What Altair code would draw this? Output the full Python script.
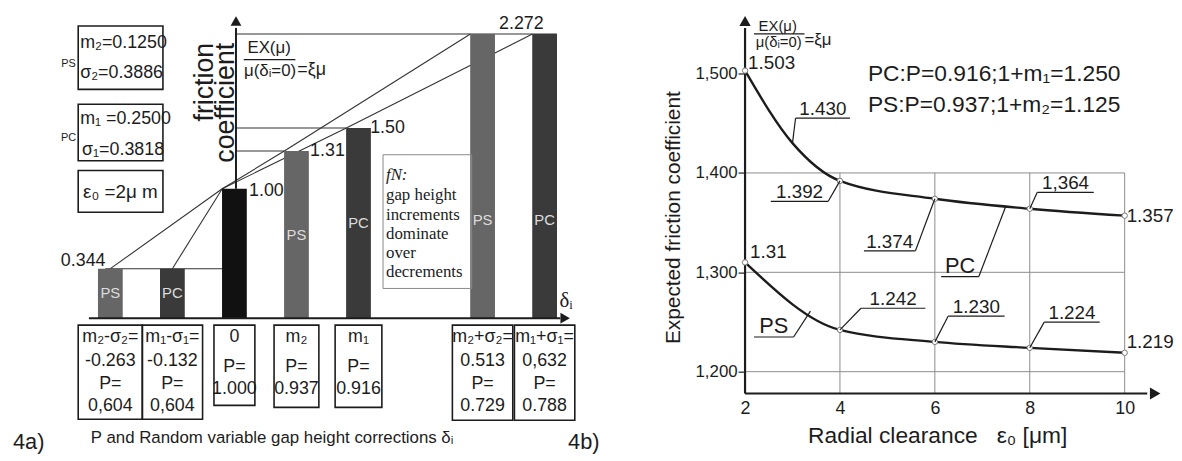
import altair as alt
import pandas as pd

SANS = "Liberation Sans"
SERIF = "Liberation Serif"
INK = "#1c1c1c"

# ---------------- data: figure 4a ----------------
slots = ["m2-s2", "m1-s1", "0", "m2", "m1", "", "m2+s2", "m1+s1"]
bar_slot = ["m2-s2", "m1-s1", "0", "m2", "m1", "m2+s2", "m1+s1"]
bar_kind = ["PS", "PC", "base", "PS", "PC", "PS", "PC"]
bar_value = [0.344, 0.344, 1.00, 1.31, 1.50, 2.272, 2.272]
box_head = ["m₂-σ₂=", "m₁-σ₁=", "0", "m₂", "m₁", "m₂+σ₂=", "m₁+σ₁="]
box_delta = ["-0.263", "-0.132", "", "", "", "0.513", "0,632"]
box_p = ["0,604", "0,604", "1.000", "0.937", "0.916", "0.729", "0.788"]
params_ps = ["m₂=0.1250", "σ₂=0.3886"]
params_pc = ["m₁ =0.2500", "σ₁=0.3818"]
eps_text = "ε₀ =2μ m"
note_lines = ["gap height", "increments", "dominate", "over", "decrements"]

# ---------------- data: figure 4b ----------------
clearance = [2, 4, 6, 8, 10]
pc_x = [2, 3, 4, 6, 8, 10]
pc_y = [1.503, 1.430, 1.392, 1.374, 1.364, 1.357]
pc_lab = ["1.503", "1.430", "1.392", "1.374", "1,364", "1.357"]
ps_x = [2, 4, 6, 8, 10]
ps_y = [1.31, 1.242, 1.230, 1.224, 1.219]
ps_lab = ["1.31", "1.242", "1.230", "1.224", "1.219"]
y_ticks = [1.2, 1.3, 1.4, 1.5]
x_ticks = [2, 4, 6, 8, 10]
grid_y = [1.2, 1.3, 1.4]
grid_x = [4, 6, 8, 10]

# ---------------- geometry ----------------
W1, W2, H = 592, 574, 445
STEP, KL = 63.7, 122.9
KRX, KRY = 47.9, 1003.0


def Lx(px):
    return (px - 108.0) / STEP


def Ly(py):
    return (311.3 - py) / KL


def Rx(px):
    return 2 + (px - 746.0) / KRX


def Ry(py):
    return 1.2 + (373.0 - py) / KRY


XL = alt.Scale(domain=[Lx(8), Lx(8 + W1)], nice=False, zero=False)
YL = alt.Scale(domain=[Ly(8 + H), Ly(8)], nice=False, zero=False)
XR = alt.Scale(domain=[Rx(8 + W1), Rx(8 + W1 + W2)], nice=False, zero=False)
YR = alt.Scale(domain=[Ry(8 + H), Ry(8)], nice=False, zero=False)
AX0 = Ly(319)
HALF = 12.5 / STEP
si = {s: k for k, s in enumerate(slots)}

AXIS_RX = alt.Axis(
    values=x_ticks, orient="bottom", offset=-58, domain=False, ticks=False, tickSize=0, grid=False,
    labelFontSize=18, labelFont=SANS, labelColor=INK, labelPadding=6,
    title="Radial clearance\u00a0\u00a0\u00a0ε₀ [μm]", titleFont=SANS, titleFontSize=23,
    titleFontWeight="normal", titleColor=INK, titleX=340, titleY=42, titleBaseline="middle",
    titleAlign="center")
AXIS_RY = alt.Axis(
    values=y_ticks, orient="left", offset=-146, format=".3f",
    labelExpr="replace(datum.label, '.', ',')", domain=False, grid=False,
    tickSize=7, tickColor=INK, tickWidth=1.2, labelFontSize=17, labelFont=SANS,
    labelColor=INK, labelPadding=1, title="Expected friction coefficient", titleFont=SANS,
    titleFontSize=21, titleFontWeight="normal", titleColor=INK, titleX=-72, titleY=209,
    titleBaseline="middle", titleAlign="center", titleAngle=270)


def xy(xs, ys):
    if xs is XR:
        return dict(x=alt.X("x:Q", scale=xs, axis=AXIS_RX), y=alt.Y("y:Q", scale=ys, axis=AXIS_RY))
    return dict(x=alt.X("x:Q", scale=xs, axis=None), y=alt.Y("y:Q", scale=ys, axis=None))


def texts(rows, xs, ys, **kw):
    df = pd.DataFrame(rows, columns=["x", "y", "t"])
    base = dict(font=SANS, color=INK, baseline="middle", fontSize=16)
    base.update(kw)
    return alt.Chart(df).mark_text(**base).encode(text="t:N", **xy(xs, ys))


def segs(rows, xs, ys, **kw):
    df = pd.DataFrame(rows, columns=["x", "y", "x2", "y2"])
    base = dict(color=INK, strokeWidth=1)
    base.update(kw)
    return alt.Chart(df).mark_rule(**base).encode(x2="x2:Q", y2="y2:Q", **xy(xs, ys))


def rects(rows, xs, ys, **kw):
    df = pd.DataFrame(rows, columns=["x", "y", "x2", "y2"])
    base = dict(fillOpacity=0, stroke=INK, strokeWidth=1.6)
    base.update(kw)
    return alt.Chart(df).mark_rect(**base).encode(x2="x2:Q", y2="y2:Q", **xy(xs, ys))


def arrow(x, y, shape, xs, ys, size=120):
    df = pd.DataFrame({"x": [x], "y": [y]})
    return alt.Chart(df).mark_point(shape=shape, filled=True, size=size, color=INK, opacity=1).encode(**xy(xs, ys))


# ================= panel 4a =================
bx = [si[s] for s in bar_slot]
bars_df = pd.DataFrame({"x": bx, "y": bar_value, "kind": bar_kind, "y2": AX0})
bars = alt.Chart(bars_df).mark_bar(size=25).encode(
    y2="y2:Q",
    color=alt.Color("kind:N", scale=alt.Scale(domain=["PS", "PC", "base"],
                                              range=["#666666", "#3a3a3a", "#111111"]), legend=None),
    **xy(XL, YL))

inner = texts([(x, min(Ly(220), (v + AX0) / 2), k) for x, v, k in zip(bx, bar_value, bar_kind) if k != "base"],
              XL, YL, color="#dcdcdc", fontSize=15, align="center")

ps_i = [0, 2, 3, 5]
pc_i = [1, 2, 4, 6]


def path(idx):
    pts = [(bx[idx[0]], bar_value[idx[0]])] + [(bx[k] - HALF, bar_value[k]) for k in idx[1:]]
    return [(a[0], a[1], b[0], b[1]) for a, b in zip(pts[:-1], pts[1:])]


diag = segs(path(ps_i) + path(pc_i), XL, YL, strokeWidth=1.1, color="#333333")

yaxis_x = Lx(237)
hlines = segs([
    (yaxis_x, bar_value[6], bx[6] + HALF, bar_value[6]),
    (yaxis_x, bar_value[4], bx[4] - HALF, bar_value[4]),
    (yaxis_x, bar_value[3], bx[3] - HALF, bar_value[3]),
    (bx[0] - 0.08, bar_value[0], bx[2] - HALF, bar_value[0]),
], XL, YL, strokeWidth=1.1, color="#333333")

axes_l = segs([(yaxis_x, bar_value[2], yaxis_x, Ly(26)), (Lx(86), AX0, Lx(570), AX0)], XL, YL, strokeWidth=2)
arr_l = arrow(yaxis_x, Ly(19), "triangle-up", XL, YL) + arrow(Lx(575), AX0, "triangle-right", XL, YL)

val_r = texts([(bx[0] - 5 / STEP, bar_value[0] + 8 / KL, "0.344")], XL, YL, align="right", fontSize=18)
val_l = texts([(bx[2] + 15 / STEP, bar_value[2] - 2 / KL, "1.00"),
               (bx[3] + 14 / STEP, bar_value[3], "1.31"),
               (bx[4] + 12 / STEP, bar_value[4], "1.50")], XL, YL, align="left", fontSize=18)
val_c = texts([((bx[5] + bx[6]) / 2 + 8 / STEP, bar_value[5] + 10 / KL, "2.272")], XL, YL, align="center", fontSize=18)

hw_px = [33, 31, 21, 23, 24, 31, 31]
bot_px = [421, 421, 407, 409, 409, 422, 422]
box_rows, box_txt = [], []
for k, x in enumerate(bx):
    box_rows.append((x - hw_px[k] / STEP, Ly(326), x + hw_px[k] / STEP, Ly(bot_px[k])))
    if box_delta[k]:
        lines = [(box_head[k], 338), (box_delta[k], 362), ("P=", 385), (box_p[k], 408)]
    else:
        lines = [(box_head[k], 338), ("P=", 368), (box_p[k], 391)]
    for t, py in lines:
        box_txt.append((x, Ly(py), t))
boxes_l = rects(box_rows, XL, YL)
boxes_t = texts(box_txt, XL, YL, align="center", fontSize=18)

par_boxes = rects([(Lx(75), Ly(24), Lx(162), Ly(88)), (Lx(75), Ly(103), Lx(162), Ly(160)),
                   (Lx(75), Ly(170), Lx(162), Ly(212))], XL, YL)
par_txt = texts([(Lx(77), Ly(41), params_ps[0]), (Lx(77), Ly(72), params_ps[1]),
                 (Lx(77), Ly(118), params_pc[0]), (Lx(79), Ly(149), params_pc[1])],
                XL, YL, align="left", fontSize=18)
eps_t = texts([(Lx(80), Ly(192), eps_text)], XL, YL, align="left", fontSize=19)
par_tags = texts([(Lx(65), Ly(62), "PS"), (Lx(65), Ly(137), "PC")], XL, YL, align="center", fontSize=11)

note_box = rects([(Lx(388), Ly(154), Lx(479), Ly(289))], XL, YL, stroke="#8a8a8a", strokeWidth=1)
note_head = texts([(Lx(391), Ly(175), "fN:")], XL, YL, align="left", font=SERIF, fontStyle="italic", fontSize=17)
note_txt = texts([(Lx(391), Ly(195 + 19.4 * k), t) for k, t in enumerate(note_lines)], XL, YL,
                 align="left", font=SERIF, fontSize=17)

ylab_l = texts([(Lx(205), Ly(41), "friction"), (Lx(227), Ly(41), "coefficient")], XL, YL,
               align="right", angle=270, fontSize=27)
frac_l = texts([(Lx(271), Ly(46), "EX(μ)"), (Lx(272), Ly(70), "μ(δᵢ=0)")], XL, YL, align="center", fontSize=17)
frac_l2 = texts([(Lx(300), Ly(69), "=ξμ")], XL, YL, align="left", fontSize=18)
frac_bar_l = segs([(Lx(245), Ly(58), Lx(298), Ly(58))], XL, YL, strokeWidth=1.2)
delta_l = texts([(Lx(576), Ly(302), "δᵢ")], XL, YL, align="center", fontSize=21, font=SERIF)
caption_l = texts([(Lx(88), Ly(440), "P and Random variable gap height corrections δᵢ")], XL, YL,
                  align="left", fontSize=17)
tags = texts([(Lx(8), Ly(444), "4a)"), (Lx(578), Ly(444), "4b)")], XL, YL, align="left", fontSize=22)

NOVIEW = alt.ViewBackground(stroke="transparent", strokeWidth=0)

left = alt.layer(
    hlines, diag, bars, inner, axes_l, arr_l, val_r, val_l, val_c, boxes_l, boxes_t,
    par_boxes, par_txt, eps_t, par_tags, note_box, note_head, note_txt, ylab_l,
    frac_l, frac_l2, frac_bar_l, delta_l, caption_l, tags,
).properties(width=W1, height=H, view=NOVIEW)

# ================= panel 4b =================
grid = segs([(2, g, 10, g) for g in grid_y] + [(g, Ry(395), g, 1.4) for g in grid_x], XR, YR,
            color="#8c8c8c", strokeWidth=1)

curve_df = pd.DataFrame({"x": pc_x + ps_x, "y": pc_y + ps_y,
                         "series": ["PC"] * len(pc_x) + ["PS"] * len(ps_x)})
curves = alt.Chart(curve_df).mark_line(interpolate="monotone", strokeWidth=2.4, color=INK).encode(
    detail="series:N", **xy(XR, YR))

pts_df = curve_df[curve_df["x"].isin(clearance)]
pts = alt.Chart(pts_df).mark_point(shape="circle", filled=True, fill="white", stroke="#777777",
                                   strokeWidth=1, size=30, opacity=1).encode(**xy(XR, YR))

axes_r = segs([(2, Ry(395), 2, Ry(26)), (2, Ry(395), Rx(1152), Ry(395))], XR, YR, strokeWidth=2.2)
arr_r = arrow(2, Ry(19), "triangle-up", XR, YR, 130) + arrow(Rx(1160), Ry(395), "triangle-right", XR, YR, 150)

# underlined labels: (anchor x, anchor y, underline start px, underline end px, underline py, leader-end px, text)
ul = [
    (pc_x[1], pc_y[1], 797, 852, 117, 797, pc_lab[1]),
    (pc_x[2], pc_y[2], 772, 830, 201, 830, pc_lab[2]),
    (pc_x[3], pc_y[3], 866, 918, 251, 918, pc_lab[3]),
    (pc_x[4], pc_y[4], 1041, 1098, 192, 1041, pc_lab[4]),
    (ps_x[1], ps_y[1], 863, 928, 309, 863, ps_lab[1]),
    (ps_x[2], ps_y[2], 951, 1008, 317, 951, ps_lab[2]),
    (ps_x[3], ps_y[3], 1048, 1104, 323, 1048, ps_lab[3]),
    (Rx(1009), 1.366, 944, 982, 277, 982, "PC"),
    (Rx(812), 1.261, 755, 795, 338, 795, "PS"),
]
under = segs([(Rx(a), Ry(py), Rx(b), Ry(py)) for _, _, a, b, py, _, _ in ul], XR, YR, strokeWidth=1.2)
leaders = segs([(ax, ay, Rx(le), Ry(py)) for ax, ay, _, _, py, le, _ in ul], XR, YR, strokeWidth=1.2)
num_t = texts([(Rx((a + b) / 2), Ry(py - 9), t) for _, _, a, b, py, _, t in ul if t not in ("PC", "PS")],
              XR, YR, align="center", fontSize=19)
name_t = texts([(Rx((a + b) / 2), Ry(py - 11), t) for _, _, a, b, py, _, t in ul if t in ("PC", "PS")],
               XR, YR, align="center", fontSize=22)
plain_t = texts([(pc_x[0] + 3 / KRX, pc_y[0] + 8 / KRY, pc_lab[0]),
                 (pc_x[5] + 2 / KRX, pc_y[5], pc_lab[5]),
                 (ps_x[0] + 5 / KRX, ps_y[0] + 10 / KRY, ps_lab[0]),
                 (ps_x[4] + 2 / KRX, ps_y[4] + 11 / KRY, ps_lab[4])], XR, YR, align="left", fontSize=19)

info_t = texts([(Rx(870), Ry(73), "PC:P=0.916;1+m₁=1.250"), (Rx(870), Ry(104), "PS:P=0.937;1+m₂=1.125")],
               XR, YR, align="left", fontSize=23)
frac_r = texts([(Rx(779), Ry(24), "EX(μ)"), (Rx(780), Ry(40), "μ(δᵢ=0)")], XR, YR, align="center", fontSize=15)
frac_r2 = texts([(Rx(806), Ry(38), "=ξμ")], XR, YR, align="left", fontSize=17)
frac_bar_r = segs([(Rx(755), Ry(32), Rx(806), Ry(32))], XR, YR, strokeWidth=1.1)

right = alt.layer(
    grid, curves, axes_r, arr_r, pts, under, leaders, num_t, name_t, plain_t, info_t,
    frac_r, frac_r2, frac_bar_r,
).properties(width=W2, height=H, view=NOVIEW)

chart = alt.hconcat(left, right, spacing=0).properties(padding=0).configure_view(
    strokeWidth=0, stroke="transparent").configure(background="white")

chart.save("out.html", embed_options={"renderer": "svg", "actions": False})
